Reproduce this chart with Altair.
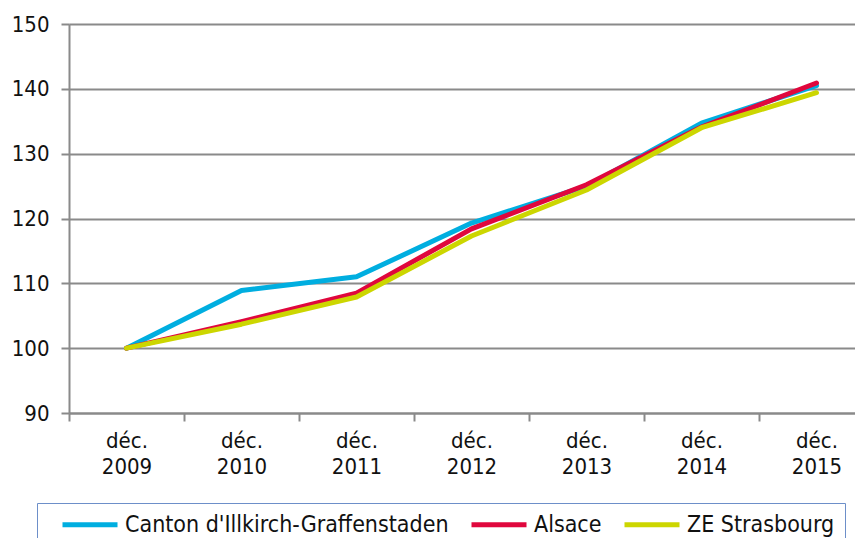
import altair as alt
import pandas as pd

years = ["2009", "2010", "2011", "2012", "2013", "2014", "2015"]
canton = [100.0, 108.9, 111.0, 119.3, 125.0, 134.7, 140.5]
alsace = [100.0, 104.1, 108.5, 118.4, 125.2, 134.1, 140.9]
ze = [100.0, 103.7, 107.9, 117.3, 124.4, 134.0, 139.4]
series = ["Canton d'Illkirch-Graffenstaden", "Alsace", "ZE Strasbourg"]
colors = ["#00AEE0", "#E0073D", "#CCD600"]
y_ticks = [90, 100, 110, 120, 130, 140, 150]

rows = []
for name, vals in zip(series, [canton, alsace, ze]):
    for i, (yr, v) in enumerate(zip(years, vals)):
        rows.append({"idx": i, "year": yr, "value": v, "series": name})
df = pd.DataFrame(rows)

FONT = "DejaVu Sans Condensed, Liberation Sans Narrow, Liberation Sans"
GRID = "#8a8a8a"

tick_vals = [i - 0.5 for i in range(len(years))]

x_enc = alt.X(
    "idx:Q",
    scale=alt.Scale(domain=[-0.5, 6.335], nice=False, zero=False),
    axis=alt.Axis(
        values=tick_vals,
        labelOffset=57.5,
        labelExpr="['déc.', '' + (2009.5 + datum.value)]",
        labelOverlap=False,
        labelFlush=False,
        labelFontSize=22,
        labelLineHeight=26,
        labelPadding=9,
        labelColor="#111111",
        labelFont=FONT,
        grid=False,
        tickSize=8,
        tickWidth=2,
        tickColor=GRID,
        domainColor=GRID,
        domainWidth=2,
        title=None,
    ),
)
y_enc = alt.Y(
    "value:Q",
    scale=alt.Scale(domain=[90, 150], nice=False, zero=False),
    axis=alt.Axis(
        values=y_ticks,
        grid=True,
        gridColor=GRID,
        gridWidth=2,
        tickSize=8,
        tickWidth=2,
        tickColor=GRID,
        domainColor=GRID,
        domainWidth=2,
        labelFontSize=22,
        labelPadding=12,
        labelColor="#111111",
        labelFont=FONT,
        title=None,
    ),
)
color_enc = alt.Color(
    "series:N",
    scale=alt.Scale(domain=series, range=colors),
    sort=series,
    legend=alt.Legend(
        title=" ",
        titleOrient="right",
        titlePadding=2,
        titleFontSize=12,
        orient="none",
        legendX=-32,
        legendY=479,
        direction="horizontal",
        symbolType="M0.4,0L5.9,0",
        symbolStrokeWidth=5,
        symbolSize=400,
        labelFontSize=23,
        labelFont=FONT,
        labelColor="#111111",
        labelLimit=600,
        labelOffset=54,
        columnPadding=6,
        padding=9,
        strokeColor="#6D8FC9",
    ),
)

layers = []
for name in series:
    layers.append(
        alt.Chart(df)
        .transform_filter(alt.datum.series == name)
        .mark_line(strokeWidth=5, strokeCap="round", strokeJoin="round")
        .encode(x=x_enc, y=y_enc, color=color_enc)
    )

chart = (
    alt.layer(*layers)
    .properties(
        width=786,
        height=389,
        padding={"left": 61, "top": 16, "right": 0, "bottom": 135},
        autosize=alt.AutoSizeParams(type="none"),
    )
    .configure_view(stroke=None)
    .configure(background="white")
)

chart.save("out.html", embed_options={"renderer": "svg", "actions": False})
